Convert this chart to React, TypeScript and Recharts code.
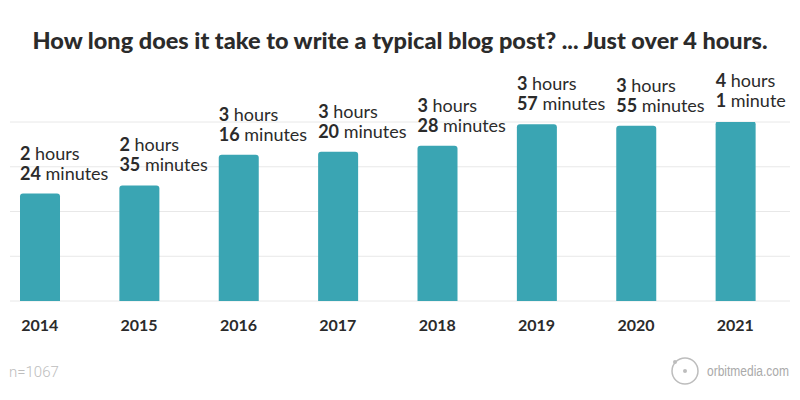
import React from "react";
import { BarChart, Bar, XAxis, YAxis, CartesianGrid, LabelList } from "recharts";

const years = ["2014", "2015", "2016", "2017", "2018", "2019", "2020", "2021"];
const hours = [2, 2, 3, 3, 3, 3, 3, 4];
const minutes = [24, 35, 16, 20, 28, 57, 55, 1];
const yTicks = [0, 60, 120, 180, 240];

const TEAL = "#3aa5b3";
const DARK = "#2b2b2b";
const FONT = "Lato, 'Open Sans', Roboto, sans-serif";

const data = years.map((year, i) => ({
  year,
  total: hours[i] * 60 + minutes[i],
  h: hours[i],
  m: minutes[i],
}));

function BarLabel(props: any) {
  const { x, y, index } = props;
  const d = data[index];
  const minWord = d.m === 1 ? "minute" : "minutes";
  return (
    <g fontFamily={FONT} fontSize={18} fill={DARK}>
      <text x={x} y={y - 34}>
        <tspan fontWeight={700}>{d.h}</tspan>
        <tspan> hours</tspan>
      </text>
      <text x={x} y={y - 14}>
        <tspan fontWeight={700}>{d.m}</tspan>
        <tspan> {minWord}</tspan>
      </text>
    </g>
  );
}

function YearTick(props: any) {
  const { x, y, payload } = props;
  return (
    <text x={x} y={y + 30} textAnchor="middle" fontFamily={FONT} fontSize={16} fontWeight={700} fill={DARK}>
      {payload.value}
    </text>
  );
}

export default function App() {
  return (
    <div style={{ position: "absolute", left: 0, top: 0, width: 800, height: 400, background: "#fff" }}>
      <svg width={800} height={70} style={{ position: "absolute", left: 0, top: 0 }}>
        <text
          x={400}
          y={49}
          textAnchor="middle"
          fontFamily={FONT}
          fontSize={22}
          fontWeight={900}
          fill={DARK}
          textLength={735}
          lengthAdjust="spacingAndGlyphs"
        >
          How long does it take to write a typical blog post? ... Just over 4 hours.
        </text>
      </svg>
      <div style={{ position: "absolute", left: 0, top: 0 }}>
        <BarChart width={800} height={400} data={data} margin={{ top: 122, right: 10, bottom: 69, left: 10 }}>
          <CartesianGrid vertical={false} stroke="#e8e8e8" />
          <YAxis hide domain={[0, 240]} ticks={yTicks} allowDataOverflow />
          <XAxis
            dataKey="year"
            axisLine={false}
            tickLine={false}
            tickSize={0}
            tickMargin={0}
            height={30}
            padding={{ left: -20, right: 5 }}
            tick={<YearTick />}
            interval={0}
          />
          <Bar dataKey="total" fill={TEAL} barSize={40} radius={[3, 3, 0, 0]} isAnimationActive={false}>
            <LabelList dataKey="total" content={<BarLabel />} />
          </Bar>
        </BarChart>
      </div>
      <svg width={800} height={400} style={{ position: "absolute", left: 0, top: 0, pointerEvents: "none" }}>
        <text x={9} y={377} fontFamily="Roboto, sans-serif" fontWeight={300} fontSize={15} fill="#bdbdbd">
          n=1067
        </text>
        <circle cx={685} cy={371} r={13} fill="none" stroke="#bdbdbd" strokeWidth={1.5} />
        <circle cx={685} cy={371} r={2} fill="#bdbdbd" />
        <circle cx={675} cy={362} r={2} fill="#bdbdbd" />
        <g transform="translate(707,376) scale(1,1.25)">
          <text x={0} y={0} fontFamily="'Liberation Sans', Arial, sans-serif" fontSize={12} fill="#aaaaaa">
            orbitmedia.com
          </text>
        </g>
      </svg>
    </div>
  );
}
